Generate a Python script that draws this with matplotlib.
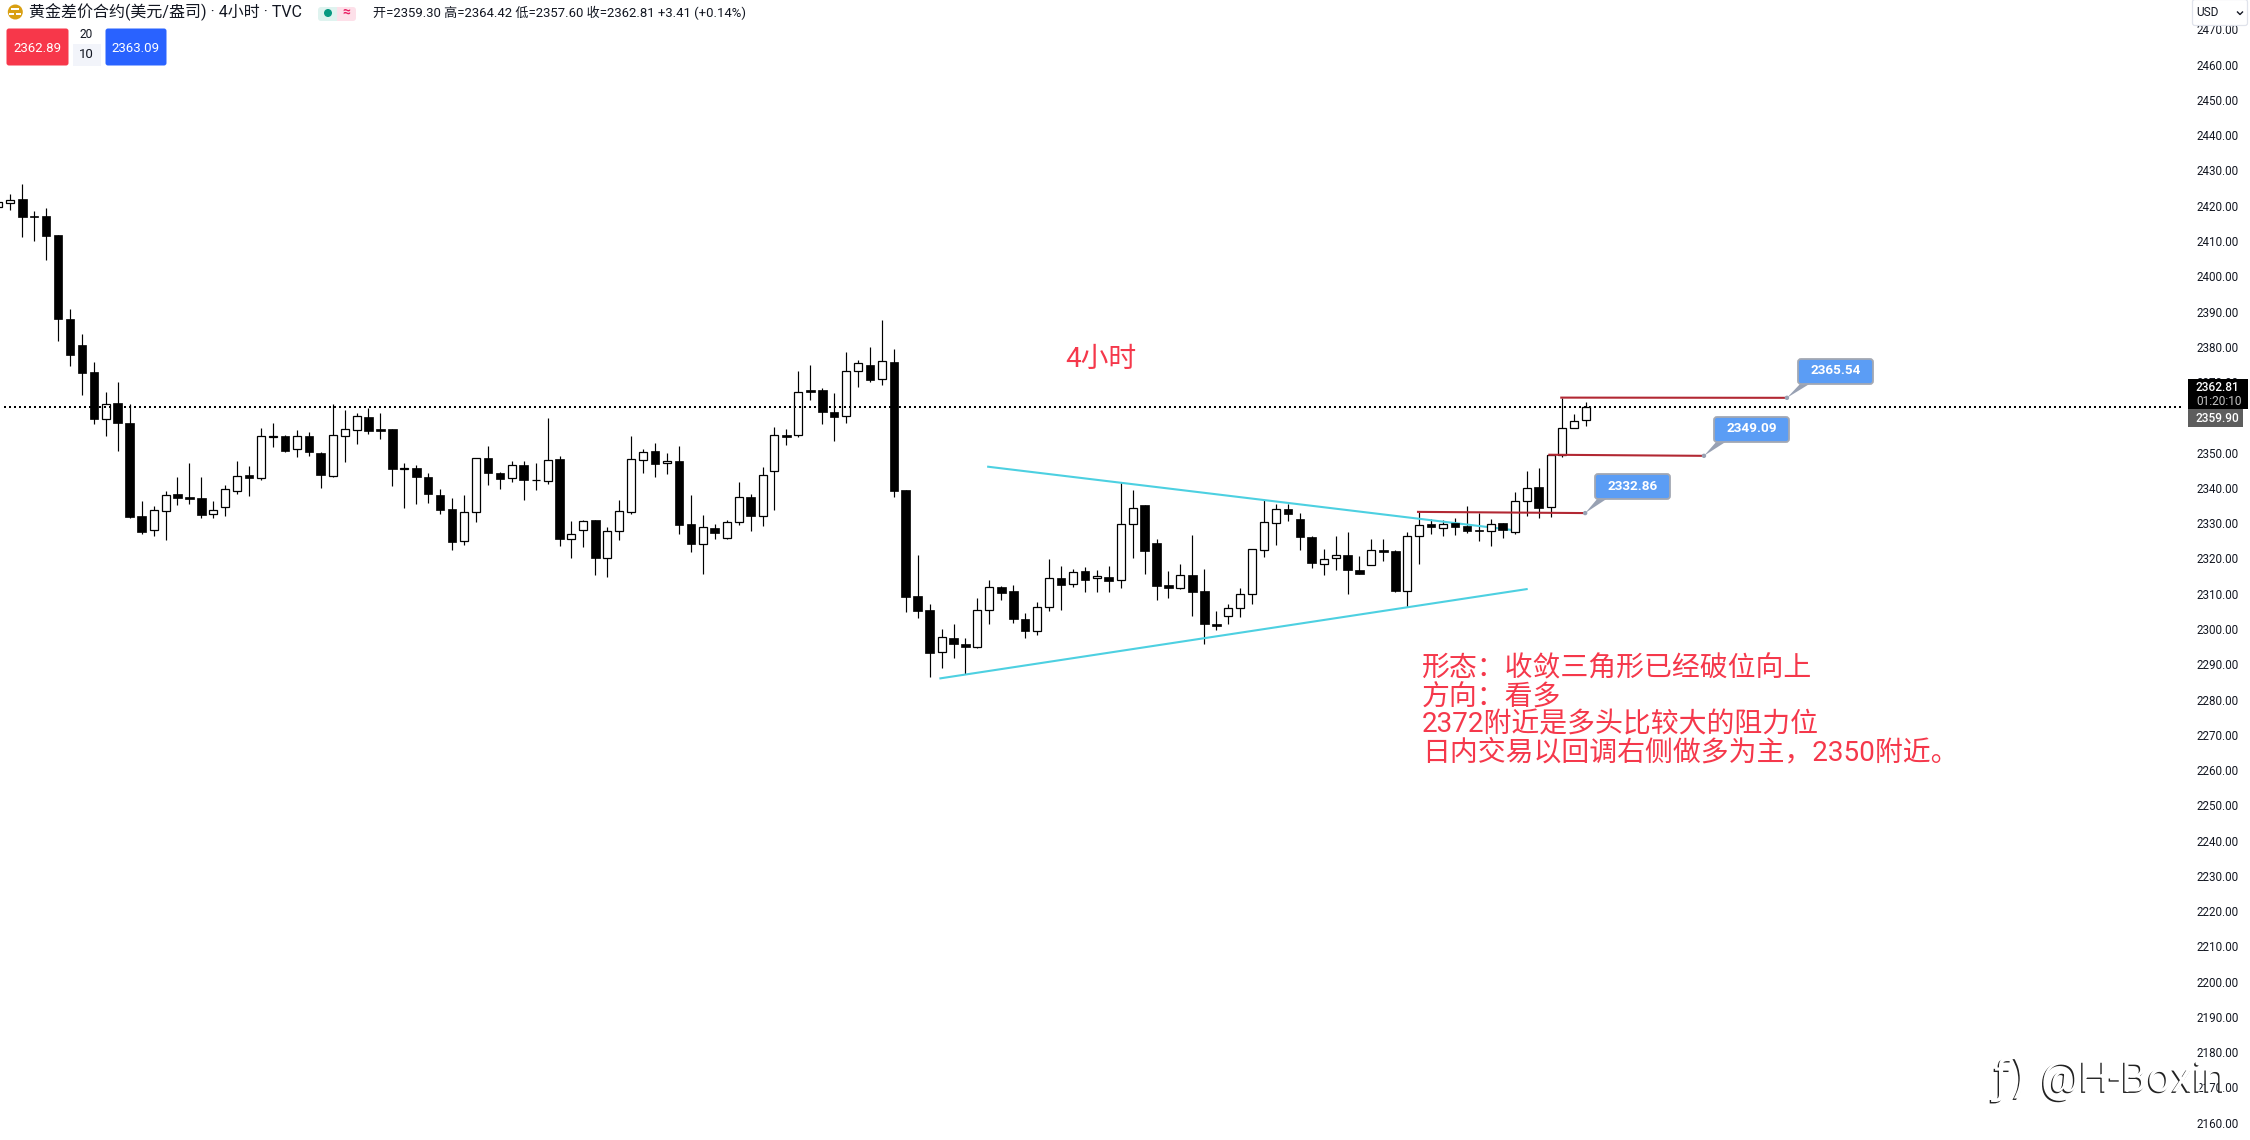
import numpy as np
import matplotlib
matplotlib.use('Agg')
import matplotlib.pyplot as plt
import matplotlib.patheffects as pe
from matplotlib.patches import FancyBboxPatch, Polygon, Circle, Rectangle

plt.rcParams['font.family'] = ['Roboto', 'Noto Sans CJK SC', 'DejaVu Sans']

# 4h candles
opens = [2419.7, 2420.8, 2421.9, 2417.1, 2417.1, 2411.7, 2388.0, 2380.5, 2372.8, 2359.6,
         2364.0, 2358.4, 2332.0, 2328.1, 2333.5, 2338.2, 2337.4, 2337.1, 2332.5, 2334.6,
         2339.2, 2343.6, 2342.9, 2354.4, 2354.7, 2351.1, 2354.7, 2350.0, 2343.4, 2354.8,
         2356.5, 2360.1, 2356.7, 2356.7, 2345.4, 2345.5, 2343.2, 2337.9, 2334.0, 2324.9,
         2333.1, 2348.4, 2344.2, 2342.7, 2346.4, 2342.1, 2341.9, 2348.1, 2325.6, 2328.2,
         2330.9, 2320.0, 2327.7, 2333.1, 2348.0, 2350.4, 2347.0, 2347.6, 2329.7, 2324.0,
         2328.6, 2325.7, 2330.3, 2337.3, 2332.0, 2344.7, 2354.9, 2354.9, 2367.8, 2367.8,
         2361.4, 2360.3, 2373.1, 2374.8, 2370.8, 2375.6, 2339.4, 2309.3, 2305.3, 2293.4,
         2297.4, 2295.8, 2295.0, 2305.3, 2311.9, 2310.7, 2302.8, 2299.4, 2306.2, 2314.4,
         2312.7, 2316.4, 2314.4, 2314.7, 2313.8, 2329.7, 2335.2, 2324.3, 2312.4, 2311.6,
         2315.3, 2310.7, 2301.4, 2303.6, 2305.9, 2309.9, 2322.3, 2330.0, 2334.0, 2331.1,
         2326.0, 2318.4, 2320.1, 2320.9, 2316.7, 2318.0, 2322.3, 2322.1, 2310.9, 2326.5,
         2329.7, 2328.5, 2330.0, 2329.2, 2328.0, 2327.9, 2330.0, 2327.6, 2336.2, 2340.2,
         2334.5, 2349.2, 2357.1, 2359.30]
highs = [2421.2, 2423.3, 2426.3, 2418.4, 2419.3, 2411.7, 2390.6, 2383.6, 2375.6, 2367.1,
         2370.0, 2363.8, 2336.2, 2335.0, 2339.0, 2343.1, 2347.2, 2343.1, 2336.4, 2340.7,
         2347.6, 2346.1, 2356.9, 2358.4, 2354.9, 2356.3, 2355.8, 2350.3, 2363.9, 2362.0,
         2361.1, 2362.6, 2361.2, 2356.7, 2347.2, 2346.4, 2344.1, 2339.8, 2337.0, 2338.0,
         2348.4, 2351.9, 2344.4, 2347.6, 2347.6, 2347.1, 2359.8, 2349.0, 2330.6, 2330.9,
         2330.9, 2328.8, 2336.6, 2354.7, 2351.1, 2352.7, 2349.8, 2351.9, 2338.0, 2332.3,
         2329.7, 2330.9, 2341.7, 2338.2, 2345.9, 2357.2, 2356.6, 2373.2, 2374.9, 2368.3,
         2366.9, 2378.5, 2376.2, 2379.9, 2387.6, 2379.3, 2339.4, 2321.0, 2307.1, 2299.9,
         2301.5, 2297.4, 2308.8, 2313.9, 2312.2, 2312.5, 2304.6, 2307.7, 2319.8, 2317.9,
         2317.1, 2317.6, 2316.8, 2317.9, 2341.7, 2339.5, 2335.2, 2325.6, 2316.5, 2318.4,
         2326.7, 2317.1, 2305.1, 2307.1, 2311.7, 2322.6, 2336.6, 2335.5, 2335.5, 2332.9,
         2326.4, 2322.6, 2326.4, 2327.5, 2320.7, 2325.4, 2325.4, 2322.5, 2327.6, 2333.1,
         2331.3, 2330.8, 2331.6, 2334.8, 2332.9, 2331.3, 2330.0, 2338.7, 2344.8, 2345.6,
         2349.3, 2365.4, 2360.9, 2364.42]
lows = [2419.7, 2418.8, 2411.2, 2410.1, 2404.7, 2381.7, 2374.6, 2366.4, 2358.2, 2354.8,
        2350.5, 2331.4, 2327.0, 2326.4, 2325.3, 2335.1, 2335.5, 2331.5, 2331.5, 2332.1,
        2338.3, 2337.8, 2342.3, 2351.7, 2350.1, 2348.8, 2349.1, 2340.0, 2343.1, 2347.4,
        2352.5, 2355.3, 2353.9, 2340.6, 2334.4, 2335.5, 2335.8, 2332.7, 2322.4, 2323.9,
        2330.4, 2340.7, 2339.8, 2341.8, 2336.7, 2339.5, 2341.2, 2323.6, 2320.2, 2323.1,
        2315.4, 2314.6, 2325.3, 2332.7, 2344.3, 2343.2, 2343.8, 2326.8, 2321.9, 2315.7,
        2325.6, 2325.6, 2329.6, 2327.9, 2329.3, 2333.8, 2352.3, 2354.3, 2364.8, 2358.2,
        2353.4, 2358.5, 2368.7, 2369.9, 2369.3, 2337.3, 2304.9, 2303.0, 2286.5, 2288.8,
        2291.9, 2287.3, 2294.7, 2301.3, 2308.1, 2301.6, 2297.3, 2298.4, 2305.0, 2305.5,
        2312.0, 2310.6, 2310.6, 2310.6, 2311.5, 2320.0, 2315.7, 2308.1, 2308.9, 2311.2,
        2303.8, 2295.6, 2299.8, 2301.3, 2303.3, 2307.2, 2320.5, 2323.9, 2330.5, 2322.5,
        2317.4, 2315.4, 2316.6, 2309.8, 2315.5, 2318.0, 2319.3, 2310.6, 2306.3, 2318.5,
        2327.0, 2326.4, 2326.7, 2327.3, 2325.0, 2323.6, 2325.9, 2327.0, 2332.1, 2331.5,
        2331.8, 2348.8, 2357.1, 2357.60]
closes = [2421.2, 2421.5, 2416.9, 2416.9, 2411.5, 2387.9, 2377.7, 2372.6, 2359.6, 2363.9,
          2358.5, 2331.8, 2327.6, 2333.6, 2338.1, 2337.2, 2336.8, 2332.4, 2333.6, 2339.6,
          2343.5, 2342.9, 2354.6, 2354.7, 2350.5, 2354.6, 2350.2, 2343.7, 2354.9, 2356.6,
          2360.5, 2356.2, 2356.2, 2345.4, 2345.6, 2343.1, 2338.3, 2333.8, 2324.7, 2333.1,
          2348.4, 2344.1, 2342.6, 2346.4, 2342.1, 2342.3, 2347.8, 2325.6, 2326.9, 2330.5,
          2320.0, 2327.7, 2333.4, 2348.1, 2350.1, 2346.9, 2347.6, 2329.6, 2324.2, 2328.8,
          2327.3, 2330.3, 2337.3, 2331.9, 2343.6, 2354.9, 2354.3, 2367.1, 2367.3, 2361.4,
          2360.2, 2373.1, 2375.3, 2370.7, 2375.9, 2339.0, 2309.2, 2305.2, 2293.3, 2297.7,
          2295.6, 2295.0, 2305.3, 2311.9, 2310.3, 2302.7, 2299.3, 2306.2, 2314.4, 2312.6,
          2316.1, 2314.0, 2315.0, 2313.7, 2329.7, 2334.3, 2322.2, 2312.3, 2311.5, 2315.3,
          2310.6, 2301.3, 2300.7, 2305.9, 2309.9, 2322.6, 2330.3, 2334.0, 2332.5, 2326.2,
          2318.6, 2319.8, 2320.9, 2316.6, 2315.6, 2322.3, 2321.9, 2310.8, 2326.5, 2329.6,
          2328.9, 2329.9, 2329.0, 2327.8, 2327.8, 2329.9, 2328.1, 2336.2, 2340.1, 2334.4,
          2349.2, 2357.1, 2359.1, 2362.81]

price_ticks = list(range(2160, 2480, 10))
last_price = 2362.81

# drawings on the chart, (bar, price)
upper_trend = ([82.9, 126.7], [2346.0, 2328.1])
lower_trend = ([78.9, 128.0], [2286.0, 2311.3])
red_levels = [([118.9, 132.9], [2333.2, 2332.86]),
              ([129.9, 142.85], [2349.4, 2349.09]),
              ([130.9, 149.8], [2365.6, 2365.54])]
note_lines = ['形态：收敛三角形已经破位向上', '方向：看多', '2372附近是多头比较大的阻力位',
              '日内交易以回调右侧做多为主，2350附近。']

RED = '#f5384b'
INK = '#131722'

fig = plt.figure(figsize=(22.5, 11.4), dpi=100, facecolor='white')
ax = fig.add_axes([0, 0, 2188/2250., 1])
ax.set_xlim(0.137, 183.39)
ax.set_ylim(2155.1, 2478.34)
for s in ax.spines.values():
    s.set_visible(False)
ax.set_xticks([])
ax.yaxis.tick_right()
ax.set_yticks(price_ticks)
ax.set_yticklabels(['%.2f' % t for t in price_ticks], fontsize=8.4, color=INK)
ax.tick_params(axis='y', length=0, pad=5.8)

# candles
xs = np.arange(len(opens))
o = np.array(opens)
c = np.array(closes)
up = c >= o
ax.vlines(xs, lows, highs, color='black', linewidth=0.85, zorder=2)
ax.bar(xs[up], np.abs(c-o)[up], 0.67, bottom=np.minimum(o, c)[up], facecolor='white',
       edgecolor='black', linewidth=0.9, zorder=3)
ax.bar(xs[~up], np.abs(c-o)[~up], 0.72, bottom=np.minimum(o, c)[~up], facecolor='black',
       edgecolor='black', linewidth=0.5, zorder=3)

# drawings
ax.plot(upper_trend[0], upper_trend[1], color='#4dd0e1', lw=1.5, zorder=2.5)
ax.plot(lower_trend[0], lower_trend[1], color='#4dd0e1', lw=1.5, zorder=2.5)
for lx, ly in red_levels:
    ax.plot(lx, ly, color='#b22833', lw=1.5, zorder=4)
ax.plot([0.47, 182.97], [last_price, last_price], color='black', lw=1.44,
        linestyle=(0, (1, 2)), antialiased=False, zorder=4)

# everything else sits on a pixel overlay
ui = fig.add_axes([0, 0, 1, 1], zorder=5)
ui.set_xlim(0, 2250)
ui.set_ylim(1140, 0)
ui.axis('off')
ui.patch.set_alpha(0)

ui.text(1065, 359, '4小时', fontsize=20, color=RED, va='center', ha='left')
for i, line in enumerate(note_lines):
    ui.text(1422, 668.5+28.3*i, line, fontsize=20.1, color=RED, va='center', ha='left')

# callouts
def callout(level, box, label):
    ax_x, ax_y = ax.transData.transform((level[0][1], level[1][1]))
    ax_y = 1140-ax_y
    x0, x1, y0, y1 = box
    ui.add_patch(Polygon([(ax_x, ax_y), (x0+3, y1-1), (x0+13, y1-1)], closed=True,
                         fc='#98a1b3', ec='none'))
    ui.add_patch(Circle((ax_x, ax_y), 2.2, fc='#98a1b3', ec='none'))
    ui.add_patch(FancyBboxPatch((x0+3, y0+3), x1-x0-6, y1-y0-6, boxstyle='round,pad=3',
                                fc='#5b9df5', ec='#a3a8b3', lw=1.3))
    ui.text((x0+x1)/2., (y0+y1)/2.-0.5, label, color='white', fontsize=9.7, fontweight='bold',
            ha='center', va='center')

callout(red_levels[0], (1595, 1670, 474, 499), '2332.86')
callout(red_levels[1], (1714, 1789, 417, 442), '2349.09')
callout(red_levels[2], (1798, 1873, 359, 384), '2365.54')

# header
ui.add_patch(Circle((15.3, 12), 7.5, fc='#d9a013', ec='none'))
ui.add_patch(Rectangle((11, 8), 8, 2, fc='white', ec='none'))
ui.add_patch(Rectangle((9, 13), 5, 2, fc='white', ec='none'))
ui.add_patch(Rectangle((15.5, 13), 5, 2, fc='white', ec='none'))
ui.text(29, 12.5, '黄金差价合约(美元/盎司) · 4小时 · TVC', fontsize=11.5, color=INK, va='center')
ui.add_patch(FancyBboxPatch((321, 10), 16, 8, boxstyle='round,pad=3', fc='#dff3ef', ec='none'))
ui.add_patch(FancyBboxPatch((341, 10), 12, 8, boxstyle='round,pad=3', fc='#fde0e9', ec='none'))
ui.add_patch(Rectangle((337, 7), 4, 14, fc='#fde0e9', ec='none'))
ui.add_patch(Circle((328, 13), 4, fc='#089981', ec='none'))
ui.text(346.5, 13, '≈', fontsize=10, color='#e91e63', ha='center', va='center', fontweight='bold')
ui.text(373, 13, '开=2359.30 高=2364.42 低=2357.60 收=2362.81 +3.41 (+0.14%)', fontsize=9.45, color=INK,
        va='center')

ui.add_patch(FancyBboxPatch((9, 31), 57, 32, boxstyle='round,pad=2.5', fc='#f7374a', ec='none'))
ui.text(37, 48, '2362.89', color='white', fontsize=9.5, ha='center', va='center')
ui.add_patch(FancyBboxPatch((108, 31), 56, 32, boxstyle='round,pad=2.5', fc='#2962ff', ec='none'))
ui.text(136, 48, '2363.09', color='white', fontsize=9.5, ha='center', va='center')
ui.add_patch(Rectangle((73, 44), 28, 22, fc='#f2f4fa', ec='none'))
ui.text(86.5, 35, '20', color=INK, fontsize=8.6, ha='center', va='center')
ui.text(86.5, 55, '10', color=INK, fontsize=9.5, ha='center', va='center')

# price scale extras
ui.add_patch(FancyBboxPatch((2195, 2), 50, 21, boxstyle='round,pad=2.5', fc='white', ec='#e0e3eb', lw=0.9))
ui.text(2196, 13, 'USD', fontsize=8.6, color=INK, va='center')
ui.plot([2237.5, 2240, 2242.5], [12, 14.5, 12], color=INK, lw=1)

ui.add_patch(Rectangle((2188, 379), 59.5, 30.3, fc='black', ec='none'))
ui.text(2196, 387.7, '2362.81', color='white', fontsize=8.6, fontweight='medium', va='center')
ui.text(2196, 401.7, '01:20:10', color='#c4c4c4', fontsize=8.6, va='center')
ui.add_patch(Rectangle((2188, 409.3), 55, 17.4, fc='#5d5d5d', ec='none'))
ui.text(2196, 418, '2359.90', color='white', fontsize=8.6, fontweight='medium', va='center')

# embossed watermark
emboss = [pe.withSimplePatchShadow(offset=(-1, -1), shadow_rgbFace='#222222', alpha=1)]
ui.text(2041, 1080, '@H-Boxin', fontsize=30.5, color='white', va='center', ha='left', family='Roboto',
        path_effects=emboss)
ui.text(1994, 1080, 'ƒ)', fontsize=33, color='white', va='center', ha='left', family='DejaVu Sans',
        path_effects=emboss)

fig.savefig('out.png', dpi=100, facecolor='white')
